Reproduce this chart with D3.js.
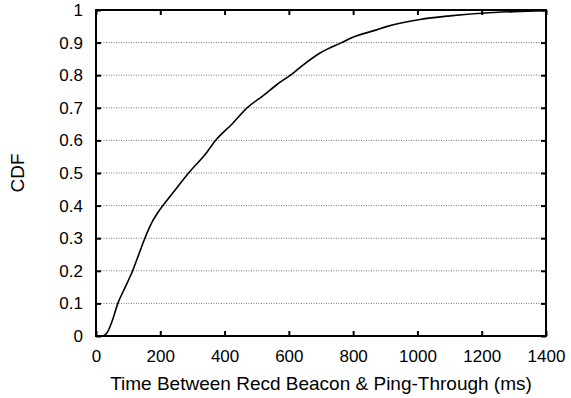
<!DOCTYPE html>
<html>
<head>
<meta charset="utf-8">
<script src="https://cdn.jsdelivr.net/npm/d3@7"></script>
<style>
  body { margin: 0; background: #fff; }
  svg text { font-family: "Liberation Sans", Arial, Helvetica, sans-serif; fill: #000; }
</style>
</head>
<body>
<svg id="chart" width="571" height="398"></svg>
<script>
'use strict';

// values
const delayMs = [22, 30, 40, 50, 68, 91, 114, 133, 152, 172, 190, 208, 248, 288, 338, 372, 425, 470, 520, 565, 605, 640, 697, 764, 801, 873, 904, 1008, 1101, 1200, 1300, 1400];
const cdfValues = [0, 0.005, 0.02, 0.045, 0.1, 0.15, 0.2, 0.25, 0.3, 0.345, 0.375, 0.4, 0.45, 0.5, 0.555, 0.6, 0.652, 0.7, 0.737, 0.773, 0.8, 0.828, 0.868, 0.9, 0.917, 0.939, 0.949, 0.971, 0.982, 0.99, 0.995, 0.998];
const xTicks = [0, 200, 400, 600, 800, 1000, 1200, 1400];
const yTicks = [0, 0.1, 0.2, 0.3, 0.4, 0.5, 0.6, 0.7, 0.8, 0.9, 1];
const xTitle = "Time Between Recd Beacon & Ping-Through (ms)";
const yTitle = "CDF";

const svg = d3.select("#chart");
const width = 571, height = 398;
const margin = { top: 10, right: 25, bottom: 62, left: 96 };
const innerW = width - margin.left - margin.right;
const innerH = height - margin.top - margin.bottom;

const xScale = d3.scaleLinear().domain([0, 1400]).range([margin.left, margin.left + innerW]);
const yScale = d3.scaleLinear().domain([0, 1]).range([margin.top + innerH, margin.top]);

// dotted horizontal grid
svg.append("g")
  .selectAll("line")
  .data(yTicks.filter(t => t > 0 && t < 1))
  .join("line")
  .attr("x1", xScale(0))
  .attr("x2", xScale(1400))
  .attr("y1", d => yScale(d))
  .attr("y2", d => yScale(d))
  .attr("stroke", "#777")
  .attr("stroke-width", 1)
  .attr("stroke-dasharray", "1,1.5");

// axes, ticks pointing inward, mirrored on top and right
const fontSize = 17;
const titleSize = 19;
const styleAxis = (g, showLabels) => {
  g.select(".domain").remove();
  g.selectAll(".tick line").attr("stroke", "#000").attr("stroke-width", 2);
  g.selectAll(".tick text").attr("font-size", fontSize);
  if (!showLabels) g.selectAll(".tick text").remove();
};

svg.append("g")
  .attr("transform", "translate(0," + yScale(0) + ")")
  .call(d3.axisBottom(xScale).tickValues(xTicks).tickSizeInner(-5).tickSizeOuter(0).tickPadding(14).tickFormat(d3.format("d")))
  .call(g => styleAxis(g, true));

svg.append("g")
  .attr("transform", "translate(0," + yScale(1) + ")")
  .call(d3.axisTop(xScale).tickValues(xTicks).tickSizeInner(-5).tickSizeOuter(0))
  .call(g => styleAxis(g, false));

svg.append("g")
  .attr("transform", "translate(" + xScale(0) + ",0)")
  .call(d3.axisLeft(yScale).tickValues(yTicks).tickSizeInner(-5).tickSizeOuter(0).tickPadding(13).tickFormat(d => d3.format("")(+d.toFixed(1))))
  .call(g => styleAxis(g, true));

svg.append("g")
  .attr("transform", "translate(" + xScale(1400) + ",0)")
  .call(d3.axisRight(yScale).tickValues(yTicks).tickSizeInner(-5).tickSizeOuter(0))
  .call(g => styleAxis(g, false));

// frame
svg.append("rect")
  .attr("x", xScale(0))
  .attr("y", yScale(1))
  .attr("width", xScale(1400) - xScale(0))
  .attr("height", yScale(0) - yScale(1))
  .attr("fill", "none")
  .attr("stroke", "#000")
  .attr("stroke-width", 2);

// the CDF curve
const points = delayMs.map((ms, i) => ({ ms: ms, p: cdfValues[i] }));
const line = d3.line()
  .x(d => xScale(d.ms))
  .y(d => yScale(d.p))
  .curve(d3.curveMonotoneX);

svg.append("path")
  .datum(points)
  .attr("fill", "none")
  .attr("stroke", "#000")
  .attr("stroke-width", 1.6)
  .attr("d", line);

// axis titles
svg.append("text")
  .attr("x", (xScale(0) + xScale(1400)) / 2)
  .attr("y", 390)
  .attr("text-anchor", "middle")
  .attr("font-size", titleSize)
  .text(xTitle);

svg.append("text")
  .attr("transform", "translate(24," + (yScale(0) + yScale(1)) / 2 + ") rotate(-90)")
  .attr("text-anchor", "middle")
  .attr("font-size", titleSize)
  .text(yTitle);
</script>
</body>
</html>
